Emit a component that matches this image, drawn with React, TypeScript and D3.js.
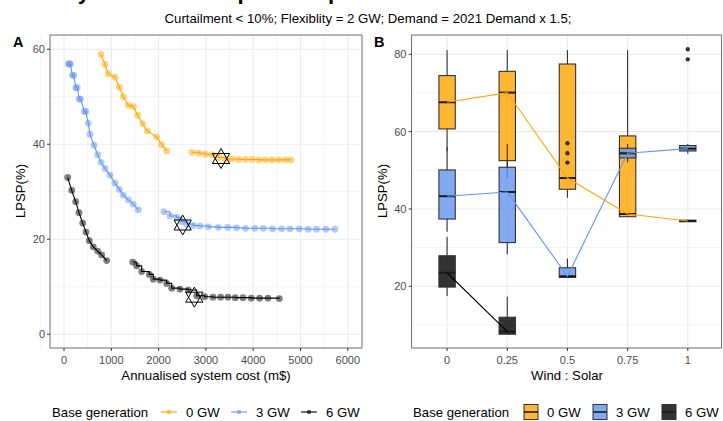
import React from "react";
import * as d3 from "d3";

// ---- panel A data: annualised system cost (m$) vs LPSP (%) ----
const orangeCost1 = [782, 867, 937, 1078, 1170, 1254, 1360, 1466, 1558, 1664, 1762, 1959, 2065, 2171];
const orangeLpsp1 = [58.9, 56.8, 54.8, 54.1, 52.0, 50.0, 48.2, 47.9, 46.1, 44.3, 42.8, 41.5, 39.9, 38.6];
const orangeCost2 = [2706, 2847, 2988, 3129, 3270, 3411, 3552, 3693, 3834, 3975, 4116, 4257, 4398, 4539, 4680, 4799];
const orangeLpsp2 = [38.3, 38.1, 37.9, 37.8, 37.2, 36.9, 36.9, 36.8, 36.8, 36.8, 36.7, 36.7, 36.7, 36.7, 36.7, 36.7];

const blueCost1 = [90, 113, 135, 178, 207, 250, 281, 320, 352, 430, 460, 514, 550, 634, 712, 782, 867, 973, 1078, 1170, 1254, 1360, 1466, 1571];
const blueLpsp1 = [56.9, 56.9, 56.9, 54.5, 54.5, 51.9, 51.9, 49.5, 49.5, 46.9, 46.9, 44.4, 42.1, 39.8, 37.8, 36.2, 34.9, 33.5, 31.8, 30.5, 29.3, 28.3, 27.4, 26.2];
const blueCost2 = [2114, 2241, 2382, 2488, 2594, 2734, 2875, 3050, 3262, 3459, 3649, 3839, 4036, 4212, 4409, 4600, 4776, 4973, 5163, 5339, 5536, 5729];
const blueLpsp2 = [25.8, 24.9, 24.6, 23.7, 23.2, 22.9, 22.8, 22.6, 22.5, 22.5, 22.4, 22.3, 22.3, 22.3, 22.2, 22.2, 22.2, 22.2, 22.1, 22.1, 22.1, 22.1];

const blackCost1 = [78, 163, 247, 317, 395, 465, 535, 619, 712, 797, 903];
const blackLpsp1 = [33.0, 30.3, 27.9, 25.6, 23.4, 21.5, 19.7, 18.4, 17.5, 16.7, 15.5];
const blackCost2 = [1452, 1536, 1642, 1804, 1888, 2030, 2171, 2277, 2452, 2628, 2805, 2974, 3150, 3312, 3466, 3621, 3783, 3959, 4135, 4311, 4552];
const blackLpsp2 = [15.2, 14.4, 13.2, 12.6, 11.6, 11.4, 10.7, 9.7, 9.5, 9.3, 8.1, 7.9, 7.8, 7.8, 7.8, 7.7, 7.7, 7.6, 7.6, 7.6, 7.5];

// selected designs (hexagram markers)
const starCost = [3319, 2509, 2755];
const starLpsp = [37.0, 23.0, 7.8];

// ---- panel B data: box stats of LPSP by wind:solar ratio ----
const ratios = [0, 0.25, 0.5, 0.75, 1];
const orangeLow = [55, 48, 42.9, 38.0, 36.7];
const orangeQ1 = [60.7, 52.5, 45.1, 38.0, 36.7];
const orangeMed = [67.6, 70.1, 48.0, 38.7, 36.9];
const orangeQ3 = [74.5, 75.6, 77.5, 58.9, 37.1];
const orangeHigh = [81.1, 81.1, 81.1, 81.1, 37.1];
const blueLow = [34.1, 28.3, 22.3, 52.1, 54.3];
const blueQ1 = [37.4, 31.3, 22.3, 53.2, 55.0];
const blueMed = [43.3, 44.4, 22.6, 54.4, 55.6];
const blueQ3 = [50.1, 50.8, 24.8, 55.7, 56.4];
const blueHigh = [56.0, 56.8, 27.2, 56.8, 56.8];
const blackRatios = [0, 0.25];
const blackLow = [17.5, 7.6];
const blackQ1 = [19.8, 7.6];
const blackMed = [23.5, 8.3];
const blackQ3 = [27.9, 12.0];
const blackHigh = [32.8, 17.3];
const outlierRatio = [0.5, 0.5, 0.5, 1, 1];
const outlierLpsp = [57.0, 54.4, 52.0, 81.3, 78.7];

const groups = ["0 GW", "3 GW", "6 GW"];
const colors = ["#FFA500", "#6495ED", "#000000"];
const xTicksA = [0, 1000, 2000, 3000, 4000, 5000, 6000];
const yTicksA = [0, 20, 40, 60];
const yTicksB = [20, 40, 60, 80];
const xTickLabelsB = ["0", "0.25", "0.5", "0.75", "1"];

const FONT = "'Liberation Sans', Arial, sans-serif";
const GRID = "#EBEBEB";

const zip = (a: number[], b: number[]) => a.map((v, i) => [v, b[i]] as [number, number]);

const hexagram = (r: number) => {
  const h = r * 0.866;
  return `M0,${-r}L${h},${r / 2}L${-h},${r / 2}Z M0,${r}L${h},${-r / 2}L${-h},${-r / 2}Z`;
};

const PanelA = () => {
  const x = d3.scaleLinear().domain([-296, 6300]).range([50, 362]);
  const y = d3.scaleLinear().domain([-2.9, 63.0]).range([348, 35]);
  const lin = d3.line<[number, number]>().x((d) => x(d[0])).y((d) => y(d[1]));
  const step = d3.line<[number, number]>().x((d) => x(d[0])).y((d) => y(d[1])).curve(d3.curveStepAfter);
  const segs = [
    { c: colors[0], a: zip(orangeCost1, orangeLpsp1), b: zip(orangeCost2, orangeLpsp2) },
    { c: colors[1], a: zip(blueCost1, blueLpsp1), b: zip(blueCost2, blueLpsp2) },
    { c: colors[2], a: zip(blackCost1, blackLpsp1), b: zip(blackCost2, blackLpsp2) },
  ];
  const minorX = d3.range(-500, 6500, 1000);
  const minorY = [10, 30, 50];
  return (
    <g>
      <rect x={50} y={35} width={312} height={313} fill="white" />
      {minorX.map((v) => (
        <line key={"mx" + v} x1={x(v)} x2={x(v)} y1={35} y2={348} stroke={GRID} strokeWidth={0.6} />
      ))}
      {minorY.map((v) => (
        <line key={"my" + v} x1={50} x2={362} y1={y(v)} y2={y(v)} stroke={GRID} strokeWidth={0.6} />
      ))}
      {xTicksA.map((v) => (
        <line key={"gx" + v} x1={x(v)} x2={x(v)} y1={35} y2={348} stroke={GRID} strokeWidth={1.1} />
      ))}
      {yTicksA.map((v) => (
        <line key={"gy" + v} x1={50} x2={362} y1={y(v)} y2={y(v)} stroke={GRID} strokeWidth={1.1} />
      ))}
      {segs.map((s, i) => (
        <g key={"s" + i}>
          <path d={lin(s.a) || ""} fill="none" stroke={s.c} strokeWidth={1.1} />
          <path d={step(s.b) || ""} fill="none" stroke={s.c} strokeWidth={1.1} />
          {s.a.concat(s.b).map((p, j) => (
            <circle key={j} cx={x(p[0])} cy={y(p[1])} r={3.4} fill={s.c} opacity={0.5} />
          ))}
        </g>
      ))}
      {starCost.map((c, i) => (
        <path key={"st" + i} d={hexagram(10)} transform={`translate(${x(c)},${y(starLpsp[i])})`} fill="none" stroke="black" strokeWidth={1} />
      ))}
      <rect x={50} y={35} width={312} height={313} fill="none" stroke="#333" strokeWidth={0.7} />
      {xTicksA.map((v) => (
        <g key={"tx" + v}>
          <line x1={x(v)} x2={x(v)} y1={348} y2={351} stroke="#333" />
          <text x={x(v)} y={364} textAnchor="middle" fontSize={11} fill="#4D4D4D" fontFamily={FONT}>{v}</text>
        </g>
      ))}
      {yTicksA.map((v) => (
        <g key={"ty" + v}>
          <line x1={47} x2={50} y1={y(v)} y2={y(v)} stroke="#333" />
          <text x={45} y={y(v) + 4} textAnchor="end" fontSize={11} fill="#4D4D4D" fontFamily={FONT}>{v}</text>
        </g>
      ))}
      <text x={206} y={380} textAnchor="middle" fontSize={13.2} fontFamily={FONT}>Annualised system cost (m$)</text>
      <text transform="translate(25,191) rotate(-90)" textAnchor="middle" fontSize={13.2} fontFamily={FONT}>LPSP(%)</text>
      <text x={13} y={47} fontSize={14.5} fontWeight="bold" fontFamily={FONT}>A</text>
    </g>
  );
};

const PanelB = () => {
  const x = d3.scaleLinear().domain([-0.147, 1.14]).range([411.7, 721.5]);
  const y = d3.scaleLinear().domain([4.04, 85.0]).range([348, 35]);
  const bw = 0.034;
  const boxes = [
    { c: colors[0], r: ratios, lo: orangeLow, q1: orangeQ1, md: orangeMed, q3: orangeQ3, hi: orangeHigh },
    { c: colors[1], r: ratios, lo: blueLow, q1: blueQ1, md: blueMed, q3: blueQ3, hi: blueHigh },
    { c: colors[2], r: blackRatios, lo: blackLow, q1: blackQ1, md: blackMed, q3: blackQ3, hi: blackHigh },
  ];
  const lin = d3.line<[number, number]>().x((d) => x(d[0])).y((d) => y(d[1]));
  const minorY = [10, 30, 50, 70];
  return (
    <g>
      <rect x={411.7} y={35} width={309.8} height={313} fill="white" />
      {minorY.map((v) => (
        <line key={"my" + v} x1={411.7} x2={721.5} y1={y(v)} y2={y(v)} stroke={GRID} strokeWidth={0.6} />
      ))}
      {ratios.map((v) => (
        <line key={"gx" + v} x1={x(v)} x2={x(v)} y1={35} y2={348} stroke={GRID} strokeWidth={1.1} />
      ))}
      {yTicksB.map((v) => (
        <line key={"gy" + v} x1={411.7} x2={721.5} y1={y(v)} y2={y(v)} stroke={GRID} strokeWidth={1.1} />
      ))}
      {boxes.map((b, i) => (
        <g key={"b" + i}>
          {b.r.map((r, j) => (
            <g key={j}>
              <line x1={x(r)} x2={x(r)} y1={y(b.hi[j])} y2={y(b.q3[j])} stroke="#333" strokeWidth={1.1} />
              <line x1={x(r)} x2={x(r)} y1={y(b.q1[j])} y2={y(b.lo[j])} stroke="#333" strokeWidth={1.1} />
              <rect x={x(r - bw)} width={x(r + bw) - x(r - bw)} y={y(b.q3[j])} height={Math.max(1.5, y(b.q1[j]) - y(b.q3[j]))}
                fill={b.c} fillOpacity={0.8} stroke="#333" strokeWidth={1.1} />
              <line x1={x(r - bw)} x2={x(r + bw)} y1={y(b.md[j])} y2={y(b.md[j])} stroke="#1a1a1a" strokeWidth={2} />
            </g>
          ))}
        </g>
      ))}
      {outlierRatio.map((r, i) => (
        <circle key={"o" + i} cx={x(r)} cy={y(outlierLpsp[i])} r={2.2} fill="#333" />
      ))}
      {boxes.map((b, i) => (
        <path key={"l" + i} d={lin(zip(b.r, b.md)) || ""} fill="none" stroke={b.c} strokeWidth={1.1} />
      ))}
      <rect x={411.7} y={35} width={309.8} height={313} fill="none" stroke="#333" strokeWidth={0.7} />
      {ratios.map((v, i) => (
        <g key={"tx" + v}>
          <line x1={x(v)} x2={x(v)} y1={348} y2={351} stroke="#333" />
          <text x={x(v)} y={364} textAnchor="middle" fontSize={11} fill="#4D4D4D" fontFamily={FONT}>{xTickLabelsB[i]}</text>
        </g>
      ))}
      {yTicksB.map((v) => (
        <g key={"ty" + v}>
          <line x1={408.7} x2={411.7} y1={y(v)} y2={y(v)} stroke="#333" />
          <text x={406.5} y={y(v) + 4} textAnchor="end" fontSize={11} fill="#4D4D4D" fontFamily={FONT}>{v}</text>
        </g>
      ))}
      <text x={567} y={380} textAnchor="middle" fontSize={13.2} fontFamily={FONT}>Wind : Solar</text>
      <text transform="translate(387,191) rotate(-90)" textAnchor="middle" fontSize={13.2} fontFamily={FONT}>LPSP(%)</text>
      <text x={374} y={47} fontSize={14.5} fontWeight="bold" fontFamily={FONT}>B</text>
    </g>
  );
};

const Legends = () => {
  const leftKeys = [169, 239, 309];
  const rightKeys = [531, 600, 669];
  const ly = 412;
  return (
    <g fontFamily={FONT} fontSize={13.2}>
      <text x={52} y={ly + 4.5}>Base generation</text>
      {groups.map((g, i) => (
        <g key={"ll" + i}>
          <line x1={leftKeys[i] - 8} x2={leftKeys[i] + 8} y1={ly} y2={ly} stroke={colors[i]} strokeWidth={1.1} />
          <circle cx={leftKeys[i]} cy={ly} r={2.3} fill={colors[i]} opacity={0.6} />
          <text x={leftKeys[i] + 17} y={ly + 4.5}>{g}</text>
        </g>
      ))}
      <text x={413} y={ly + 4.5}>Base generation</text>
      {groups.map((g, i) => (
        <g key={"rl" + i}>
          <rect x={rightKeys[i] - 7} y={ly - 7.5} width={14} height={15} fill={colors[i]} fillOpacity={0.8} stroke="#333" strokeWidth={1} />
          <line x1={rightKeys[i] - 7} x2={rightKeys[i] + 7} y1={ly} y2={ly} stroke="#1a1a1a" strokeWidth={1.6} />
          <text x={rightKeys[i] + 16} y={ly + 4.5}>{g}</text>
        </g>
      ))}
    </g>
  );
};

export default function App() {
  return (
    <svg width={723} height={421} style={{ position: "absolute", left: 0, top: 0, background: "white" }}>
      {/* main title sits above the top edge in the reference; only descenders show */}
      <text x={-20} y={-1} fontSize={22} fontWeight="bold" fontFamily={FONT}>
        Sensitivity of LPSP to expansion plans
      </text>
      <text x={368} y={23} textAnchor="middle" fontSize={13.2} fontFamily={FONT}>
        Curtailment &lt; 10%; Flexiblity = 2 GW; Demand = 2021 Demand x 1.5;
      </text>
      <PanelA />
      <PanelB />
      <Legends />
    </svg>
  );
}
